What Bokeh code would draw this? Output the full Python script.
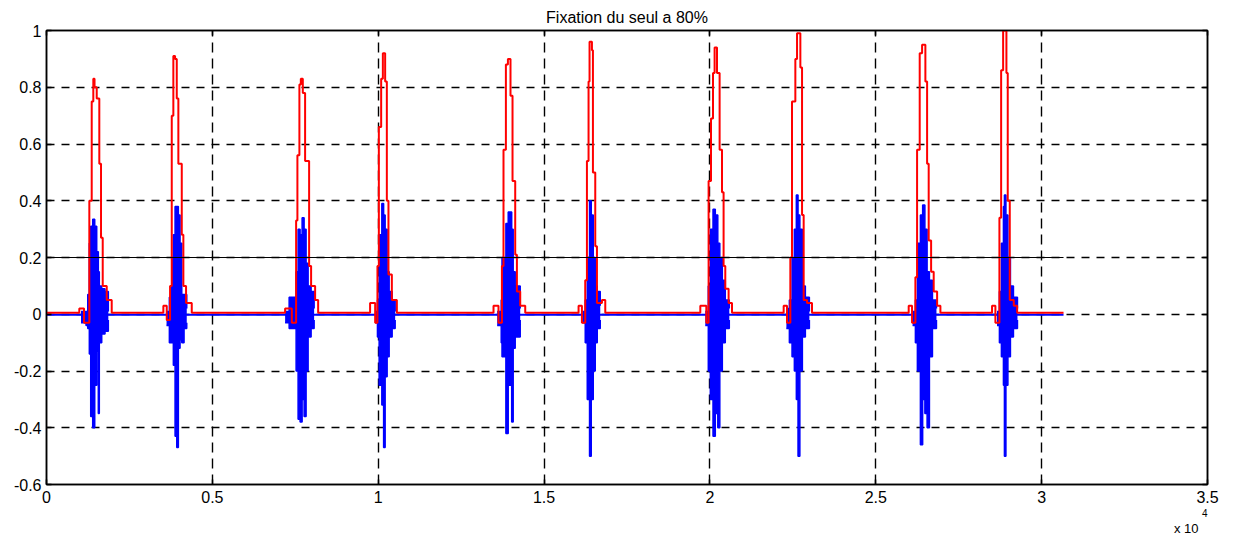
from bokeh.plotting import figure
from bokeh.models import Range1d, FixedTicker, LinearAxis, Title
from bokeh.embed import file_html
from bokeh.resources import INLINE

# ---------------- data ----------------
title_text = "Fixation du seul a 80%"
x_ticks = [0, 5000, 10000, 15000, 20000, 25000, 30000, 35000]
x_tick_labels = ["0", "0.5", "1", "1.5", "2", "2.5", "3", "3.5"]
y_ticks = [-0.6, -0.4, -0.2, 0, 0.2, 0.4, 0.6, 0.8, 1]
y_tick_labels = ["-0.6", "-0.4", "-0.2", "0", "0.2", "0.4", "0.6", "0.8", "1"]
x_multiplier = "x 10"
x_exponent = "4"

signal_start = 0
signal_end = 30660
red_base = 0.005
blue_base = -0.002
threshold = 0.2

# red envelope (step values) per burst
red_x = [
    [989, 1131, 1291, 1363, 1411, 1448, 1514, 1592, 1644, 1695, 1816, 1966],
    [3523, 3625, 3725, 3776, 3824, 3876, 3927, 3975, 4078, 4126, 4207, 4379],
    [7193, 7395, 7525, 7564, 7624, 7667, 7727, 7796, 7917, 7977, 8098, 8189],
    [9755, 9908, 9977, 10019, 10089, 10140, 10209, 10260, 10309, 10411, 10562],
    [13476, 13626, 13729, 13777, 13849, 13910, 13988, 14049, 14130, 14181, 14281, 14432],
    [16040, 16141, 16241, 16292, 16341, 16371, 16443, 16473, 16543, 16594, 16745, 16845],
    [19710, 19891, 19960, 20032, 20093, 20141, 20213, 20292, 20364, 20412, 20463, 20563, 20666],
    [22223, 22324, 22424, 22475, 22575, 22626, 22726, 22777, 22826, 22927, 23078],
    [25992, 26093, 26194, 26245, 26324, 26396, 26495, 26547, 26595, 26668, 26746, 26849, 26948],
    [28505, 28606, 28727, 28779, 28839, 28938, 28978, 29039, 29160, 29261],
]
red_y = [
    [0.02, -0.03, 0.40, 0.75, 0.83, 0.80, 0.76, 0.53, 0.27, 0.10, 0.05, 0.005],
    [0.03, -0.02, 0.10, 0.70, 0.91, 0.90, 0.76, 0.53, 0.28, 0.10, 0.04, 0.005],
    [0.02, -0.03, 0.33, 0.56, 0.81, 0.83, 0.78, 0.54, 0.17, 0.10, 0.05, 0.005],
    [0.04, -0.03, 0.17, 0.66, 0.83, 0.92, 0.82, 0.40, 0.14, 0.05, 0.005],
    [0.03, -0.03, 0.17, 0.58, 0.88, 0.90, 0.77, 0.47, 0.21, 0.08, 0.03, 0.005],
    [0.03, -0.03, 0.12, 0.54, 0.82, 0.96, 0.93, 0.50, 0.24, 0.04, 0.05, 0.005],
    [0.03, -0.03, 0.47, 0.69, 0.85, 0.94, 0.85, 0.58, 0.43, 0.17, 0.09, 0.04, 0.005],
    [0.03, -0.03, 0.20, 0.75, 0.90, 0.99, 0.87, 0.35, 0.05, 0.04, 0.005],
    [0.03, -0.03, 0.13, 0.58, 0.92, 0.95, 0.82, 0.53, 0.26, 0.15, 0.08, 0.03, 0.005],
    [0.03, -0.03, 0.34, 0.86, 1.00, 0.85, 0.40, 0.05, 0.03, 0.005],
]

# blue signal bursts: sample positions with upper / lower excursions
blue_x = [
    [1040, 1191, 1243, 1291, 1333, 1393, 1454, 1514, 1562, 1592, 1665, 1764, 1864],
    [3619, 3704, 3776, 3824, 3876, 3927, 3975, 4026, 4078, 4147, 4228],
    [7193, 7315, 7525, 7585, 7645, 7706, 7766, 7826, 7887, 7977, 8068],
    [9908, 9977, 10028, 10109, 10163, 10209, 10269, 10330, 10420, 10511],
    [13587, 13708, 13732, 13849, 13919, 14024, 14069, 14130, 14190, 14281],
    [16153, 16241, 16302, 16371, 16422, 16483, 16543, 16603, 16694],
    [19861, 19951, 20012, 20093, 20162, 20237, 20298, 20374, 20463, 20584],
    [22305, 22395, 22475, 22545, 22605, 22656, 22711, 22787, 22877, 22998],
    [26111, 26194, 26254, 26345, 26413, 26480, 26547, 26617, 26708, 26829],
    [28655, 28727, 28787, 28848, 28878, 28923, 28983, 29059, 29150, 29271],
]
blue_top = [
    [0.01, 0.01, 0.07, 0.25, 0.31, 0.335, 0.31, 0.22, 0.15, 0.10, 0.09, 0.08, 0.01],
    [0.01, 0.06, 0.20, 0.28, 0.38, 0.38, 0.35, 0.25, 0.07, 0.07, 0.02],
    [0.01, 0.06, 0.15, 0.30, 0.28, 0.34, 0.30, 0.18, 0.10, 0.08, 0.02],
    [0.01, 0.05, 0.28, 0.39, 0.35, 0.30, 0.15, 0.08, 0.05, 0.01],
    [0.01, 0.05, 0.20, 0.32, 0.36, 0.30, 0.15, 0.10, 0.10, 0.02],
    [0.01, 0.05, 0.20, 0.40, 0.35, 0.20, 0.10, 0.08, 0.03],
    [0.01, 0.10, 0.30, 0.37, 0.35, 0.25, 0.20, 0.12, 0.05, 0.02],
    [0.02, 0.05, 0.20, 0.30, 0.42, 0.35, 0.30, 0.10, 0.06, 0.01],
    [0.01, 0.05, 0.25, 0.35, 0.385, 0.30, 0.15, 0.12, 0.05, 0.02],
    [0.01, 0.08, 0.25, 0.38, 0.42, 0.35, 0.20, 0.10, 0.06, 0.02],
]
blue_bot = [
    [-0.03, -0.04, -0.05, -0.14, -0.36, -0.40, -0.25, -0.13, -0.35, -0.10, -0.07, -0.06, -0.02],
    [-0.04, -0.10, -0.10, -0.18, -0.43, -0.47, -0.12, -0.09, -0.10, -0.05, -0.03],
    [-0.03, -0.05, -0.20, -0.37, -0.38, -0.30, -0.36, -0.20, -0.08, -0.05, -0.02],
    [-0.03, -0.08, -0.25, -0.32, -0.47, -0.22, -0.15, -0.08, -0.05, -0.02],
    [-0.04, -0.10, -0.15, -0.42, -0.25, -0.38, -0.12, -0.08, -0.08, -0.02],
    [-0.03, -0.10, -0.30, -0.50, -0.30, -0.20, -0.10, -0.05, -0.02],
    [-0.04, -0.20, -0.30, -0.43, -0.35, -0.40, -0.20, -0.10, -0.05, -0.02],
    [-0.05, -0.10, -0.15, -0.20, -0.30, -0.50, -0.20, -0.08, -0.05, -0.02],
    [-0.04, -0.10, -0.20, -0.46, -0.30, -0.35, -0.40, -0.15, -0.05, -0.02],
    [-0.04, -0.10, -0.15, -0.25, -0.50, -0.25, -0.15, -0.08, -0.05, -0.02],
]

# ---------------- figure ----------------
FONT = "Liberation Sans"
p = figure(width=1235, height=535, output_backend="svg", toolbar_location=None,
           x_range=Range1d(0, 35000), y_range=Range1d(-0.6, 1),
           min_border_left=46, min_border_right=28, min_border_top=30, min_border_bottom=50,
           background_fill_color="white", border_fill_color="white")
p.outline_line_color = "black"
p.outline_line_width = 1.5

p.title.text = title_text
p.title.align = "center"
p.title.text_font = FONT
p.title.text_font_size = "16px"
p.title.text_font_style = "normal"
p.title.text_color = "black"
p.title.standoff = 9

xt = FixedTicker(ticks=x_ticks)
yt = FixedTicker(ticks=y_ticks)

bottom_ax = p.below[0]
left_ax = p.left[0]
bottom_ax.ticker = xt
bottom_ax.major_label_overrides = {t: l for t, l in zip(x_ticks, x_tick_labels)}
left_ax.ticker = yt
left_ax.major_label_overrides = {t: l for t, l in zip(y_ticks, y_tick_labels)}

top_ax = LinearAxis(ticker=xt, major_label_overrides={t: "" for t in x_ticks})
right_ax = LinearAxis(ticker=yt, major_label_overrides={t: "" for t in y_ticks})
p.add_layout(top_ax, "above")
p.add_layout(right_ax, "right")

for ax in [bottom_ax, left_ax, top_ax, right_ax]:
    ax.axis_line_color = "black"
    ax.axis_line_width = 1.5
    ax.major_tick_in = 5
    ax.major_tick_out = 0
    ax.major_tick_line_color = "black"
    ax.major_tick_line_width = 1.5
    ax.minor_tick_line_color = None
    ax.major_label_text_font = FONT
    ax.major_label_text_font_size = "16px"
    ax.major_label_text_color = "black"
bottom_ax.major_label_standoff = 6
left_ax.major_label_standoff = 5
for ax in [top_ax, right_ax]:
    ax.major_label_text_font_size = "1px"
    ax.major_label_standoff = 0

p.xgrid.ticker = xt
p.ygrid.ticker = yt
p.xgrid.grid_line_color = "black"
p.ygrid.grid_line_color = "black"
p.xgrid.grid_line_width = 1.4
p.ygrid.grid_line_width = 1.4
p.xgrid.grid_line_dash = "10 6"
p.ygrid.grid_line_dash = "8 7"

# exponent of the x axis, below the axis at the right end
p.add_layout(Title(text=x_exponent, align="right", text_font=FONT, text_font_size="10px",
                   text_font_style="normal", text_color="black", standoff=3), "below")
p.add_layout(Title(text=x_multiplier, align="right", offset=9, text_font=FONT,
                   text_font_size="13px", text_font_style="normal", text_color="black",
                   standoff=0), "below")

# blue signal
p.line([signal_start, signal_end], [blue_base, blue_base], line_color="#0000ff", line_width=2)
for bx, bt, bb in zip(blue_x, blue_top, blue_bot):
    p.varea_step(x=bx, y1=bb, y2=bt, step_mode="after", fill_color="#0000ff")
    p.step(bx, bt, mode="after", line_color="#0000ff", line_width=1.5)
    p.step(bx, bb, mode="after", line_color="#0000ff", line_width=1.5)

# red envelope
rx = [signal_start]
ry = [red_base]
for bx, by in zip(red_x, red_y):
    rx += bx
    ry += by
rx.append(signal_end)
ry.append(red_base)
p.step(rx, ry, mode="after", line_color="#ff0000", line_width=2)

# threshold line
p.line([signal_start, signal_end], [threshold, threshold], line_color="black", line_width=1)

open("out.html", "w").write(file_html(p, INLINE))
